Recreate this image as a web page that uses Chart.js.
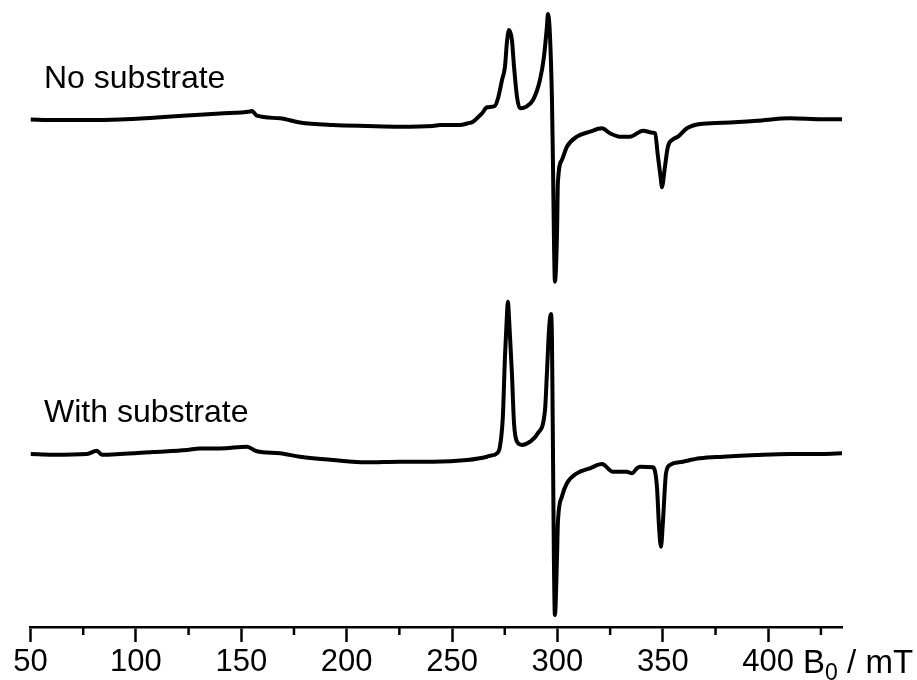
<!DOCTYPE html>
<html>
<head>
<meta charset="utf-8">
<title>EPR spectra</title>
<script src="https://cdn.jsdelivr.net/npm/chart.js@4.4.0/dist/chart.umd.min.js"></script>
<style>
    html, body { margin: 0; padding: 0; background: #fff; }
    #wrap { width: 917px; height: 680px; }
</style>
</head>
<body>
<div id="wrap"><canvas id="epr-chart"></canvas></div>
<script>
// Field positions (mT) and signal intensities (a.u.) of the two spectra
const fieldNoSub = [50, 60.7, 76.8, 92.5, 106.7, 124.2, 139.9, 154.1, 155.1, 157.4, 168.4, 177.8, 193.5,
    209.6, 225.3, 240.9, 244.3, 253.7, 257.1, 259.9, 264.2, 266.6, 270.3, 271.8, 273.7, 275.1, 276.0, 277.0,
    278.4, 279.4, 280.8, 282.2, 284.6, 288.4, 291.7, 293.6, 295.0, 295.5, 296.4, 297.4, 297.9, 298.3, 298.8,
    299.8, 300.2, 302.1, 304.5, 309.2, 315.4, 321.1, 324.9, 329.6, 334.4, 340.6, 345.3, 346.3, 347.7, 349.1,
    349.5, 351.0, 352.4, 354.8, 357.2, 361.4, 367.6, 378.5, 394.6, 410.3, 425.9, 435];
const signalNoSub = [0.5, 0, 0, 0.5, 2, 4.5, 6.5, 8.5, 9, 4.3, 1.7, -2.5, -5,
    -6, -6.7, -6, -5, -5, -3.5, -1.7, 6.7, 12.7, 14, 21.7, 40, 53.3, 77, 90,
    80, 53.3, 23.3, 11.7, 12.7, 20, 40, 63.3, 93.3, 106, 86.7, 20, -46.7, -113, -161.7,
    -113, -63, -40, -26.7, -16.7, -11.7, -8.3, -13.3, -16.7, -16.7, -10.7, -12.7, -13.3, -36.7, -60,
    -67.3, -46.7, -26.7, -19.3, -16.7, -8.3, -4, -2.7, -0.7, 1.7, 0.7, 0.7];

const fieldWithSub = [50, 60.7, 76.8, 81.5, 83.9, 92.5, 108.1, 124.2, 130.4, 139.9, 152.7, 157.4, 168.4, 177.8,
    193.5, 209.6, 225.3, 240.9, 257.1, 266.6, 268.0, 271.3, 272.7, 274.1, 275.1, 276.0, 276.5, 277.0, 278.4,
    279.4, 280.8, 283.2, 287.0, 290.7, 294.1, 295.0, 296.0, 296.9, 297.4, 297.9, 298.3, 298.8, 299.8, 300.2,
    302.1, 304.5, 309.2, 315.4, 321.1, 326.3, 332.9, 335.3, 337.7, 339.1, 345.3, 347.2, 348.1, 349.1, 350.0,
    351.5, 353.4, 359.5, 367.6, 378.5, 394.6, 410.3, 425.9, 435];
const signalWithSub = [1, 0.3, 1, 4.3, 0.3, 1, 3, 5, 6.5, 6.5, 8.3, 3.7, 1.7, -1.7,
    -5, -7.3, -6.7, -6.7, -5, -1.7, -0.7, 1.7, 8.3, 38.3, 98.3, 138.3, 153.3, 138.3, 81.7,
    31.7, 13.3, 10, 13.3, 21.7, 45, 81.7, 125, 141, 115, -1.7, -101.7, -160, -101.7, -68.3,
    -41.7, -28.3, -18.3, -13.3, -9, -16.7, -16.7, -18.3, -13.3, -11.7, -12.3, -31.7, -68.3, -91.7, -68.3,
    -18.3, -10, -6.7, -3.3, -1.7, 0, 1, 1, 1.7];

const majorTicks = [50, 100, 150, 200, 250, 300, 350, 400];
const minorTicks = [75, 125, 175, 225, 275, 325, 375, 425];
const traceLabels = ['No substrate', 'With substrate'];

// vertical stacking of the two spectra
const offsetNoSub = 507;
const offsetWithSub = 172;
const labelLift = 32;

const toPoints = (xs, ys, offset) => xs.map((x, i) => ({ x: x, y: ys[i] + offset }));

const fontFamily = "'Liberation Sans', Arial, sans-serif";

// short minor ticks under the axis line
const minorTickPlugin = {
    id: 'minorTicks',
    afterDraw(chart) {
        const ctx = chart.ctx;
        const xs = chart.scales.x;
        ctx.save();
        ctx.strokeStyle = '#000';
        ctx.lineWidth = 2.5;
        minorTicks.forEach(v => {
            const px = xs.getPixelForValue(v);
            ctx.beginPath();
            ctx.moveTo(px, xs.top);
            ctx.lineTo(px, xs.top + 8);
            ctx.stroke();
        });
        ctx.restore();
    }
};

// axis title "B0 / mT" sitting after the last tick label, plus trace captions
const textPlugin = {
    id: 'eprText',
    afterDraw(chart) {
        const ctx = chart.ctx;
        const xs = chart.scales.x;
        const ys = chart.scales.y;
        ctx.save();
        ctx.fillStyle = '#000';
        ctx.textBaseline = 'alphabetic';

        ctx.font = '31px ' + fontFamily;
        const last = majorTicks[majorTicks.length - 1];
        let x = xs.getPixelForValue(last) + ctx.measureText(String(last)).width / 2 + 9;
        const base = 673;
        ctx.font = '33px ' + fontFamily;
        ctx.fillText('B', x, base);
        x += ctx.measureText('B').width;
        ctx.font = '23px ' + fontFamily;
        ctx.fillText('0', x, base + 7);
        x += ctx.measureText('0').width;
        ctx.font = '33px ' + fontFamily;
        ctx.fillText(' / mT', x, base);

        ctx.font = '32px ' + fontFamily;
        ctx.fillText(traceLabels[0], xs.getPixelForValue(56.4), ys.getPixelForValue(offsetNoSub + labelLift));
        ctx.fillText(traceLabels[1], xs.getPixelForValue(56.4), ys.getPixelForValue(offsetWithSub + labelLift + 1));
        ctx.restore();
    }
};

new Chart(document.getElementById('epr-chart'), {
    type: 'line',
    data: {
        datasets: [{
            label: traceLabels[0],
            data: toPoints(fieldNoSub, signalNoSub, offsetNoSub),
            borderColor: '#000',
            borderWidth: 4,
            pointRadius: 0,
            cubicInterpolationMode: 'monotone'
        }, {
            label: traceLabels[1],
            data: toPoints(fieldWithSub, signalWithSub, offsetWithSub),
            borderColor: '#000',
            borderWidth: 4,
            pointRadius: 0,
            cubicInterpolationMode: 'monotone'
        }]
    },
    options: {
        responsive: true,
        maintainAspectRatio: false,
        animation: false,
        layout: { padding: { left: 30.5, right: 75, top: 0, bottom: 0 } },
        plugins: {
            legend: { display: false },
            tooltip: { enabled: false }
        },
        scales: {
            x: {
                type: 'linear',
                min: 50,
                max: 435,
                afterBuildTicks: s => { s.ticks = majorTicks.map(v => ({ value: v })); },
                afterFit: s => { s.height = 53; },
                border: { display: true, color: '#000', width: 2.5 },
                grid: {
                    drawOnChartArea: false,
                    drawTicks: true,
                    tickLength: 15,
                    tickWidth: 2.5,
                    tickColor: '#000'
                },
                ticks: {
                    color: '#000',
                    padding: 2,
                    maxRotation: 0,
                    autoSkip: false,
                    font: { family: fontFamily, size: 31 }
                }
            },
            y: {
                display: false,
                min: 0,
                max: 627
            }
        }
    },
    plugins: [minorTickPlugin, textPlugin]
});
</script>
</body>
</html>
